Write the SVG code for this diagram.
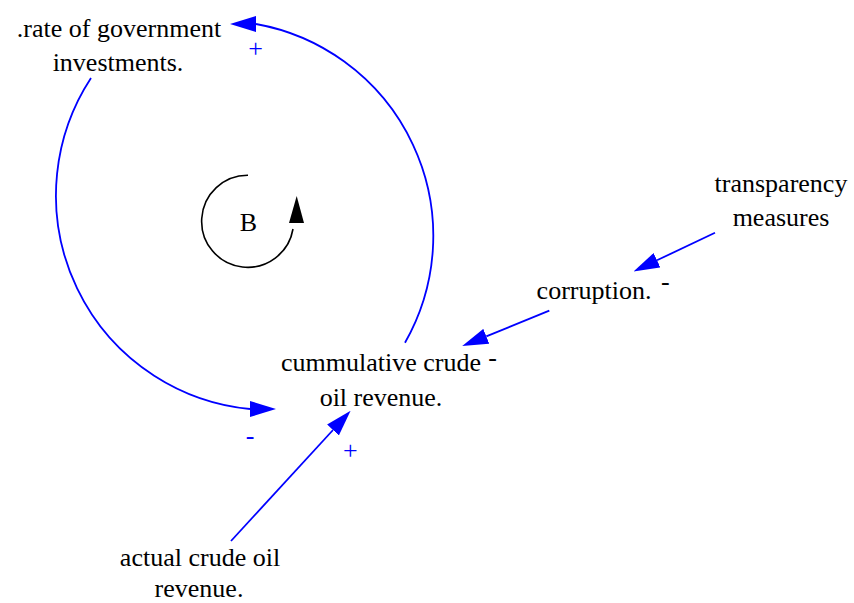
<svg xmlns="http://www.w3.org/2000/svg" width="854" height="603" viewBox="0 0 854 603">
<style>
  text { font-family: 'Liberation Serif', 'Times New Roman', Times, 'DejaVu Serif', serif; font-size: 26px; fill: #000; }
  .lbl { text-anchor: middle; }
  .sign { fill: #0000ff; text-anchor: middle; }
  .link { fill: none; stroke: #0000ff; stroke-width: 1.8; }
  .loop { fill: none; stroke: #000; stroke-width: 1.6; }
</style>
<defs>
  <marker id="ah" markerUnits="userSpaceOnUse" viewBox="0 0 26 16" refX="0" refY="8" markerWidth="26" markerHeight="16" orient="auto">
    <path d="M0,0 L26,8 L0,16 z" fill="#0000ff"/>
  </marker>
  <marker id="ahR" markerUnits="userSpaceOnUse" viewBox="0 0 26 16" refX="0" refY="8" markerWidth="26" markerHeight="16" orient="0">
    <path d="M0,0 L26,8 L0,16 z" fill="#0000ff"/>
  </marker>
  <marker id="ahL" markerUnits="userSpaceOnUse" viewBox="0 0 26 16" refX="0" refY="8" markerWidth="26" markerHeight="16" orient="180">
    <path d="M0,0 L26,8 L0,16 z" fill="#0000ff"/>
  </marker>
</defs>
<rect width="854" height="603" fill="#fff"/>

<g id="connectors">
  <path class="link" d="M91,78 A214.5,214.5 0 0 0 250,409" marker-end="url(#ahR)"/>
  <path class="link" d="M405,342.7 A215.4,215.4 0 0 0 256,24" marker-end="url(#ahL)"/>
  <path class="link" d="M715,232.7 L657,260.3" marker-end="url(#ah)"/>
  <path class="link" d="M549.3,310.7 L486.3,336.3" marker-end="url(#ah)"/>
  <path class="link" d="M231,541 L333,430" marker-end="url(#ah)"/>
  <text class="sign" x="255.5" y="57.1">+</text>
  <text class="sign" x="250" y="444.2">-</text>
  <text class="sign" x="350.3" y="458.6">+</text>
</g>

<g id="loop-B">
  <path class="loop" d="M248,175.3 A46,46 0 1 0 293,229"/>
  <polygon points="296.7,196 289,223 304,223" fill="#000"/>
  <text class="lbl" x="248.5" y="230.7">B</text>
</g>

<g id="node-rate">
  <text class="lbl" x="119" y="36.7">.rate of government</text>
  <text class="lbl" x="118" y="70.5">investments.</text>
</g>

<g id="node-transparency">
  <text class="lbl" x="781" y="191.7">transparency</text>
  <text class="lbl" x="781" y="225.7">measures</text>
</g>

<g id="node-corruption">
  <text class="lbl" x="594" y="299.3">corruption.</text>
  <text class="lbl" x="665.3" y="290.4">-</text>
</g>

<g id="node-cumulative">
  <text class="lbl" x="381" y="371">cummulative crude</text>
  <text class="lbl" x="381" y="406.3">oil revenue.</text>
  <text class="lbl" x="492.7" y="366">-</text>
</g>

<g id="node-actual">
  <text class="lbl" x="200" y="565.7">actual crude oil</text>
  <text class="lbl" x="199" y="596.5">revenue.</text>
</g>
</svg>
